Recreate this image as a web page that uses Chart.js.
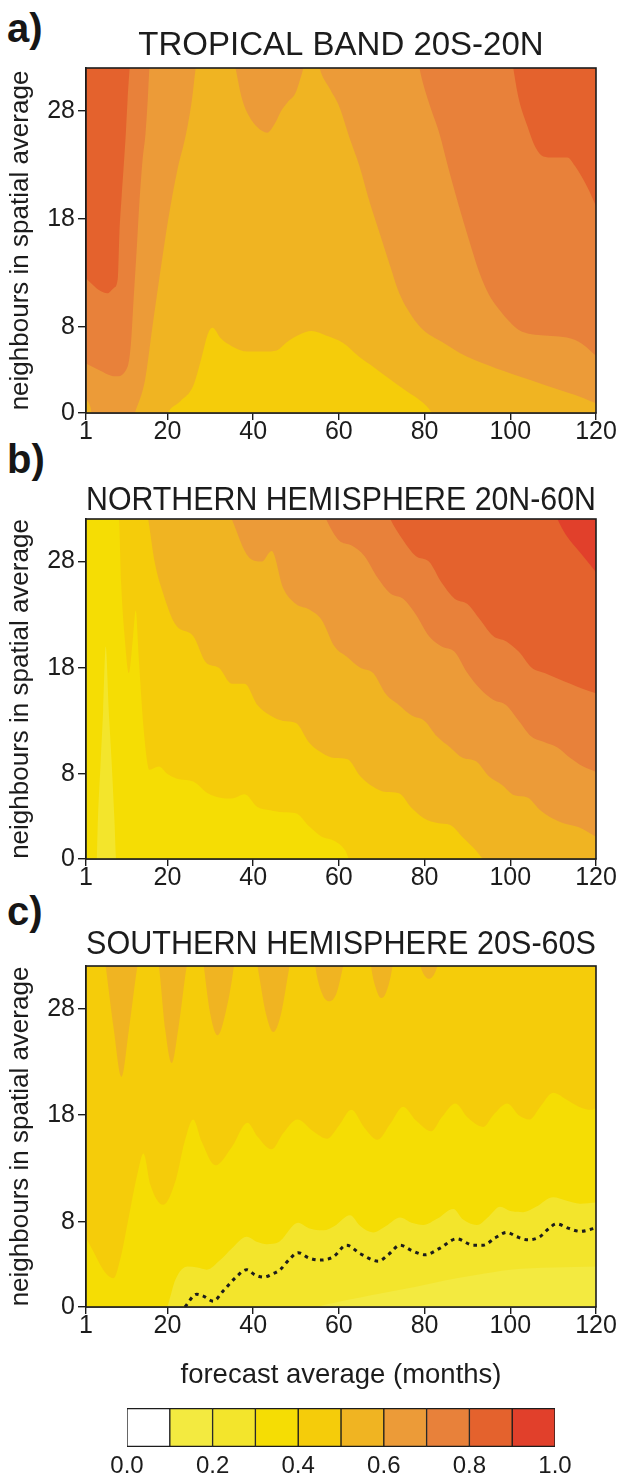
<!DOCTYPE html>
<html>
<head>
<meta charset="utf-8">
<title>Correlation by forecast average and spatial average</title>
<script src="https://cdn.jsdelivr.net/npm/chart.js@4.4.1/dist/chart.umd.min.js"></script>
<style>
  html, body { margin: 0; padding: 0; background: #fff; }
  body { position: relative; width: 626px; height: 1479px; overflow: hidden; font-family: 'Liberation Sans', Arial, sans-serif; }
  canvas { position: absolute; left: 0; }
  .tag { position: absolute; left: 7px; margin: 0; font-size: 40px; line-height: 40px; font-weight: bold; color: #161616; }
</style>
</head>
<body>
<p class="tag" style="top:8px">a)</p>
<p class="tag" style="top:439px">b)</p>
<p class="tag" style="top:891px">c)</p>
<canvas id="tropics" width="626" height="458" style="top:0"></canvas>
<canvas id="north" width="626" height="452" style="top:452px"></canvas>
<canvas id="south" width="626" height="495" style="top:900px"></canvas>
<canvas id="key" width="626" height="84" style="top:1395px"></canvas>
<script>
const ink = '#1c1c1c';
Chart.defaults.font.family = "'Liberation Sans', Arial, Helvetica, sans-serif";
Chart.defaults.color = ink;

// colour key: classes of 0.1 from 0.0 to 1.0
const keyBounds = [0.0, 0.1, 0.2, 0.3, 0.4, 0.5, 0.6, 0.7, 0.8, 0.9, 1.0];
const keyTicks = [0.0, 0.2, 0.4, 0.6, 0.8, 1.0];
const bandColors = ['#ffffff', '#f3ea40', '#f3e52c', '#f5dd04', '#f5cc0a', '#f0b422', '#ec9b38', '#e8813a', '#e4622d', '#e1402b'];

const monthTicks = [1, 20, 40, 60, 80, 100, 120];
const neighbourTicks = [0, 8, 18, 28];

// each edge = lower boundary of the area where value >= level, as [months, neighbours]
// a) tropical band
const tropicsLevels = [0.4, 0.5, 0.6, 0.7, 0.8];
const tropicsEdge40 = [[1, -1], [120, -1]];
const tropicsEdge50 = [[1, -1], [19, -1], [20, 0], [23, 1.1], [26, 2.5], [28, 5.2], [29.5, 7.4], [30.5, 7.9], [32.5, 6.9], [35, 6.2], [38.7, 5.7], [43, 5.7], [45.5, 5.8], [48, 6.6], [51, 7.3], [53.6, 7.6], [57, 7.2], [61, 6.5], [64.8, 5.2], [68, 4.3], [72, 3.1], [75.5, 2.1], [78.8, 1.2], [81, 0.4], [82.5, -0.5], [84, -1], [120, -1]];
const tropicsEdge60 = [[1, 1.3], [2, 0.6], [2.8, -1], [11.5, -1], [12.4, 0], [14.8, 3.1], [16.5, 8], [18.3, 13], [20.2, 18], [22.3, 22.5], [24.3, 25.8], [25.7, 29], [26.6, 32], [27.5, 34], [35, 34], [35.9, 32], [37.5, 29], [39.1, 27.5], [41, 26.5], [43.3, 26], [45, 26.8], [46.5, 28], [48, 28.8], [49.9, 29.7], [51, 31], [51.7, 32], [52.5, 34], [54.5, 34], [55.5, 32], [58, 30], [60.1, 28.4], [62.5, 25.5], [64.8, 22.9], [67, 19.8], [69.5, 16.7], [72, 13.6], [74.1, 11.1], [77, 9], [79.7, 7.7], [84, 6.6], [88.1, 5.6], [95, 4.4], [102, 3.4], [108, 2.6], [113.3, 1.9], [117, 1.4], [120, 0.9]];
const tropicsEdge70 = [[1, 4.6], [4, 4], [7.9, 3.4], [10.7, 4.3], [11.5, 6.5], [12.1, 10.5], [12.8, 15], [13.5, 19.8], [14.2, 23.5], [14.9, 26], [15.4, 29], [15.8, 32], [16.5, 34], [78, 34], [78.8, 32], [81, 28.8], [83.4, 26], [85.7, 22.5], [88, 19.2], [90.4, 16], [92.8, 13], [95, 11], [97.4, 9.6], [100, 8.4], [102, 7.7], [105, 7.3], [108, 7.2], [111.4, 7.1], [115, 6.8], [117.5, 6.2], [120, 5.3]];
const tropicsEdge80 = [[1, 12.5], [2, 12.1], [4, 11.4], [6, 11.1], [7.5, 11.6], [8.4, 12.4], [8.8, 16.7], [9.3, 20], [9.8, 22.9], [10.3, 26], [10.7, 29], [11.2, 32], [11.8, 34], [100, 34], [100.7, 32], [102, 29.1], [104, 26.6], [105.8, 24.7], [107.7, 23.8], [110, 23.7], [113.3, 23.7], [115.1, 22.9], [117.9, 21], [120, 19.2]];

// b) northern hemisphere
const northLevels = [0.2, 0.3, 0.4, 0.5, 0.6, 0.7, 0.8, 0.9];
const northEdge20 = [[1, -1], [120, -1]];
const northEdge30 = [[1, -1], [3.4, -1], [3.8, 4], [4.4, 9], [5.0, 14], [5.6, 20], [6.3, 14], [7.0, 9], [7.6, 4], [8.2, -1], [120, -1]];
const northEdge40 = [[1, 34], [7.5, 34], [8.7, 32], [9.2, 26], [10, 21], [11, 17.5], [12, 21], [12.6, 23.4], [13.3, 19], [14.5, 12], [15.8, 8.4], [18, 8.7], [20, 8], [22.8, 7.5], [26, 7.3], [29.4, 6.2], [32, 5.8], [35, 5.7], [38, 6.1], [41, 4.9], [44, 4.6], [47, 4.4], [50, 4.3], [53, 3.1], [56, 2.1], [59, 1.7], [61.5, 0.8], [63.5, -1], [120, -1]];
const northEdge50 = [[1, 34], [14.5, 34], [15.5, 32], [17, 28], [19, 25], [22, 22], [26, 21], [29, 18.5], [32, 18], [35, 16.5], [38, 16.5], [41, 14.5], [44, 13.5], [47, 13], [50, 12.8], [53, 11], [56, 10], [59, 9.5], [62, 9.4], [65, 7.8], [68, 6.8], [71, 6.3], [74, 6.2], [77, 4.8], [80, 3.8], [83, 3.4], [86, 3.2], [89, 2], [92, 0.8], [94, -0.2], [96, -1], [120, -1]];
const northEdge60 = [[1, 34], [33, 34], [35, 32], [39, 28.4], [42, 28], [44.3, 29], [47, 25.5], [50, 24], [53, 23.5], [56, 22.5], [59, 20], [62, 19], [65, 18], [68, 17.5], [71, 15.5], [74, 14.5], [77, 13.5], [80, 13], [83, 11.5], [86, 10.5], [89, 9.5], [92, 9.2], [95, 7.8], [98, 7], [101, 6], [104, 5.8], [107, 4.6], [110, 3.8], [113, 3.3], [116, 3], [120, 2.1]];
const northEdge70 = [[1, 34], [55, 34], [57, 32], [60, 30], [63, 29.5], [66, 28.5], [69, 26.5], [72, 25], [75, 24.5], [78, 23], [81, 21], [84, 20], [87, 19.5], [90, 17.5], [93, 16], [96, 15], [99, 14.5], [102, 13], [105, 11.5], [108, 11], [111, 10.5], [114, 9.5], [117, 8.7], [120, 8.2]];
const northEdge80 = [[1, 34], [70, 34], [72, 32], [75, 30], [78, 28.5], [81, 28], [84, 26], [87, 24.5], [90, 24], [93, 22.5], [96, 21], [99, 20.5], [102, 19.5], [105, 18], [108, 17.5], [111, 17], [114, 16.5], [117, 16], [120, 15.6]];
const northEdge90 = [[1, 34], [109, 34], [111, 32], [113, 30.5], [116, 29], [118, 28], [120, 27]];

// c) southern hemisphere
const southLevels = [0.1, 0.2, 0.3, 0.4, 0.5];
const southEdge10 = [[1, -1], [120, -1]];
const southEdge20 = [[1, -1], [50, -1], [55, 0], [60, 0.5], [65, 0.9], [70, 1.3], [78, 1.9], [85, 2.5], [92, 3], [100, 3.5], [110, 3.7], [120, 3.8]];
const southEdge30 = [[1, -1], [19, -1], [20, 0], [21.9, 2.6], [24.7, 3.8], [27, 3.7], [29.2, 3.5], [32.3, 4.4], [35, 5.5], [38.5, 6.6], [41, 6.1], [43.2, 5.9], [46, 6.1], [50.5, 7.9], [53, 7.4], [56.4, 7.2], [59, 7.6], [62.6, 8.6], [65, 7.6], [68, 7.0], [71, 7.6], [74.3, 8.4], [77, 7.9], [79.7, 7.7], [83, 8.3], [86.7, 9.2], [89, 8.2], [92.2, 7.7], [95, 8.5], [97.6, 9.4], [100, 9.0], [103, 8.9], [106, 9.4], [110, 10.3], [113, 10.0], [116.3, 9.7], [120, 9.8]];
const southEdge40 = [[1, 6.5], [3, 5], [5, 3.5], [7.4, 2.7], [9, 4.5], [11, 8.5], [13, 12.5], [14.4, 14.4], [16, 11.5], [19, 9.6], [22, 12], [24, 15.5], [26, 17.6], [28, 15.5], [31.2, 13.3], [35, 15], [38.7, 17.3], [41, 16], [44.3, 14.8], [47, 16.3], [50.3, 17.6], [54, 16.5], [57.3, 15.8], [60, 17], [62.9, 18.5], [66, 16.8], [69, 15.7], [72, 17.2], [75, 18.8], [78, 17.5], [81.6, 16.5], [84, 17.8], [87.2, 19.1], [90, 17.8], [93.7, 16.9], [96, 18], [99.3, 19.1], [102, 18], [104.5, 17.6], [107, 18.8], [110, 20.1], [113, 19.5], [116, 18.8], [118.9, 18.5], [120, 18.7]];
const southEdge50 = [[1, 34], [5, 34], [5.6, 32], [7.5, 26], [9.3, 21.6], [11, 26], [13, 32], [14, 34], [17, 34], [18, 32], [19.5, 26], [21, 22.9], [22.5, 26], [24.5, 32], [25.5, 34], [28, 34], [28.5, 32], [30, 27.5], [31.7, 25.5], [33.5, 27.5], [35.5, 32], [36, 34], [40, 34], [41, 32], [43, 27.5], [44.7, 25.8], [46.5, 27.5], [48.5, 32], [49.5, 34], [54, 34], [54.5, 32], [56, 29.5], [57.8, 28.7], [59.5, 29.5], [61, 32], [62, 34], [67, 34], [67.5, 32], [69, 29.5], [69.9, 29], [71, 29.5], [72.5, 32], [73, 34], [78, 34], [79, 32], [81.1, 30.8], [83, 32], [84, 34], [120, 34]];
const southDashed = [[24.1, 0], [26.8, 1.2], [28.5, 1], [30.7, 0.55], [33, 1.5], [36, 2.8], [38.5, 3.5], [40.5, 3], [42.4, 2.8], [44.5, 3.1], [46.3, 3.5], [48.5, 4.5], [50.5, 5.1], [53, 4.6], [55.6, 4.4], [58.7, 4.7], [61.8, 5.8], [65, 5], [69.2, 4.3], [71.5, 4.9], [74.3, 5.8], [77, 5.3], [80.1, 4.9], [83.5, 5.5], [87.5, 6.4], [91.4, 5.8], [93.7, 5.8], [96.5, 6.5], [99.2, 7.0], [101.5, 6.6], [104.2, 6.3], [106.9, 6.6], [108.8, 7.3], [110.8, 7.8], [113.5, 7.4], [116.3, 7.1], [119.8, 7.4]];

// box round the plot area
const framePlugin = {
  id: 'frame',
  afterDatasetsDraw(chart) {
    const a = chart.chartArea;
    const ctx = chart.ctx;
    ctx.save();
    ctx.strokeStyle = ink;
    ctx.lineWidth = 1.6;
    ctx.strokeRect(a.left, a.top, a.right - a.left, a.bottom - a.top);
    ctx.restore();
  }
};

function contourPanel(id, cfg) {
  const datasets = cfg.levels.map((level, i) => ({
    label: '>= ' + level.toFixed(1),
    data: cfg.edges[i],
    backgroundColor: bandColors[Math.round(level * 10)],
    borderColor: bandColors[Math.round(level * 10)],
    borderWidth: 0,
    fill: 'end',
    order: 100 - i
  }));
  if (cfg.dashed) {
    datasets.push({
      label: 'dashed',
      data: cfg.dashed,
      borderColor: ink,
      borderWidth: 3,
      borderDash: [3.6, 4.4],
      fill: false,
      order: 0
    });
  }
  return new Chart(document.getElementById(id), {
    type: 'line',
    data: { datasets: datasets },
    options: {
      responsive: false,
      animation: false,
      events: [],
      layout: { padding: { left: 0, right: 30, top: 0, bottom: 0 } },
      elements: {
        point: { radius: 0 },
        line: { cubicInterpolationMode: 'monotone', capBezierPoints: false }
      },
      plugins: {
        legend: { display: false },
        tooltip: { enabled: false },
        title: {
          display: true,
          text: cfg.title,
          fullSize: false,
          color: ink,
          font: { size: 33, weight: 'normal', lineHeight: 1 },
          padding: cfg.titlePad
        }
      },
      scales: {
        x: {
          type: 'linear',
          min: 1,
          max: 120,
          afterBuildTicks: s => { s.ticks = monthTicks.map(v => ({ value: v })); },
          afterFit: s => { s.height = cfg.xHeight; },
          grid: { drawOnChartArea: false, drawTicks: true, tickLength: 7, color: ink, lineWidth: 1.4 },
          border: { display: true, color: ink, width: 1.6 },
          ticks: { color: ink, font: { size: 25, lineHeight: 1 }, padding: 0, maxRotation: 0, autoSkip: false },
          title: {
            display: !!cfg.xTitle,
            text: cfg.xTitle || '',
            color: ink,
            font: { size: 27.5, lineHeight: 1.2 },
            padding: { top: 0, bottom: 3.5 }
          }
        },
        y: {
          type: 'linear',
          min: 0,
          max: 32,
          afterBuildTicks: s => { s.ticks = neighbourTicks.map(v => ({ value: v })); },
          afterFit: s => { s.width = 86; },
          grid: { drawOnChartArea: false, drawTicks: true, tickLength: 8, color: ink, lineWidth: 1.4 },
          border: { display: true, color: ink, width: 1.6 },
          ticks: { color: ink, font: { size: 25 }, padding: 3 },
          title: {
            display: true,
            text: 'neighbours in spatial average',
            color: ink,
            font: { size: 26, lineHeight: 1.2 },
            padding: { top: 5, bottom: 0 }
          }
        }
      }
    },
    plugins: [framePlugin]
  });
}

contourPanel('tropics', {
  title: 'TROPICAL BAND 20S-20N',
  titlePad: { top: 29.5, bottom: 5.5 },
  xHeight: 45,
  levels: tropicsLevels,
  edges: [tropicsEdge40, tropicsEdge50, tropicsEdge60, tropicsEdge70, tropicsEdge80]
});

contourPanel('north', {
  title: 'NORTHERN HEMISPHERE 20N-60N',
  titlePad: { top: 32.5, bottom: 1.5 },
  xHeight: 45,
  levels: northLevels,
  edges: [northEdge20, northEdge30, northEdge40, northEdge50, northEdge60, northEdge70, northEdge80, northEdge90]
});

contourPanel('south', {
  title: 'SOUTHERN HEMISPHERE 20S-60S',
  titlePad: { top: 28.5, bottom: 4.5 },
  xHeight: 88,
  xTitle: 'forecast average (months)',
  levels: southLevels,
  edges: [southEdge10, southEdge20, southEdge30, southEdge40, southEdge50],
  dashed: southDashed
});

// colour key as floating bars on a 0-1 scale
new Chart(document.getElementById('key'), {
  type: 'bar',
  data: {
    labels: [''],
    datasets: bandColors.map((c, i) => ({
      label: keyBounds[i].toFixed(1) + '-' + keyBounds[i + 1].toFixed(1),
      data: [[keyBounds[i], keyBounds[i + 1]]],
      backgroundColor: c,
      borderColor: ink,
      borderWidth: { top: 1.6, bottom: 1.6, left: 1, right: 1 },
      borderSkipped: false,
      grouped: false,
      barPercentage: 1,
      categoryPercentage: 1
    }))
  },
  options: {
    indexAxis: 'y',
    responsive: false,
    animation: false,
    events: [],
    layout: { padding: { left: 127, right: 71, top: 13, bottom: 0 } },
    plugins: { legend: { display: false }, tooltip: { enabled: false } },
    scales: {
      x: {
        type: 'linear',
        min: 0,
        max: 1,
        afterBuildTicks: s => { s.ticks = keyTicks.map(v => ({ value: v })); },
        afterFit: s => { s.height = 32; },
        grid: { display: false, drawTicks: false },
        border: { display: false },
        ticks: { color: ink, font: { size: 24 }, padding: 5, maxRotation: 0, callback: v => Number(v).toFixed(1) }
      },
      y: { display: false }
    }
  }
});
</script>
</body>
</html>
